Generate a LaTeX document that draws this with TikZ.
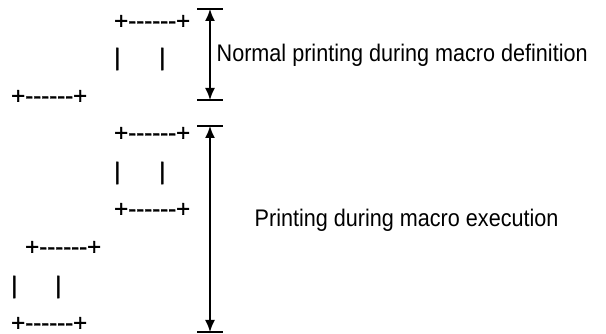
\documentclass[tikz,border=0pt]{standalone}
\usepackage{fontspec}
\setmainfont{Liberation Sans}
\newfontfamily\artfont[Ligatures=TeXOff, FakeBold=1.5]{Liberation Sans}
\newfontfamily\notefont[FakeStretch=0.9]{Liberation Sans}
\usepackage{tikz}
\usetikzlibrary{arrows.meta}
\tikzstyle{art}=[inner sep=0pt, anchor=west, font=\artfont\fontsize{24}{28}\selectfont]
\tikzstyle{note}=[inner sep=0pt, anchor=base west, font=\notefont\fontsize{24}{28}\selectfont]
\tikzstyle{span}=[line width=1.6pt, {Latex[length=12pt,width=10pt]}-{Latex[length=12pt,width=10pt]}]
\tikzstyle{stop}=[line width=1.6pt]

\begin{document}
\begin{tikzpicture}[x=1pt, y=-1pt]
        \useasboundingbox (0, 0) rectangle (606, 334);
        \node[art] (A1) at (114, 22) {+------+};
        \node[art] (A2) at (114, 59) {|};
        \node[art] (A3) at (159, 59) {|};
        \node[art] (A4) at (11, 97) {+------+};
        \node[art] (B1) at (114, 134) {+------+};
        \node[art] (B2) at (114, 173) {|};
        \node[art] (B3) at (159, 173) {|};
        \node[art] (B4) at (114, 210) {+------+};
        \node[art] (C1) at (25, 248) {+------+};
        \node[art] (C2) at (11, 287) {|};
        \node[art] (C3) at (55, 287) {|};
        \node[art] (C4) at (11, 324) {+------+};
        \coordinate (T1) at (210, 9);
        \coordinate (U1) at (210, 100);
        \coordinate (T2) at (210, 126);
        \coordinate (U2) at (210, 332);
        \draw[stop] (T1) +(-13, 0) -- +(13, 0);
        \draw[stop] (U1) +(-13, 0) -- +(13, 0);
        \draw[stop] (T2) +(-13, 0) -- +(13, 0);
        \draw[stop] (U2) +(-13, 0) -- +(13, 0);
        \draw[span] (T1) -- (U1);
        \draw[span] (T2) -- (U2);
        \node[note] (N1) at (216.5, 62) {Normal printing during macro definition};
        \node[note] (N2) at (254.5, 227) {Printing during macro execution};
    \end{tikzpicture}
\end{document}
